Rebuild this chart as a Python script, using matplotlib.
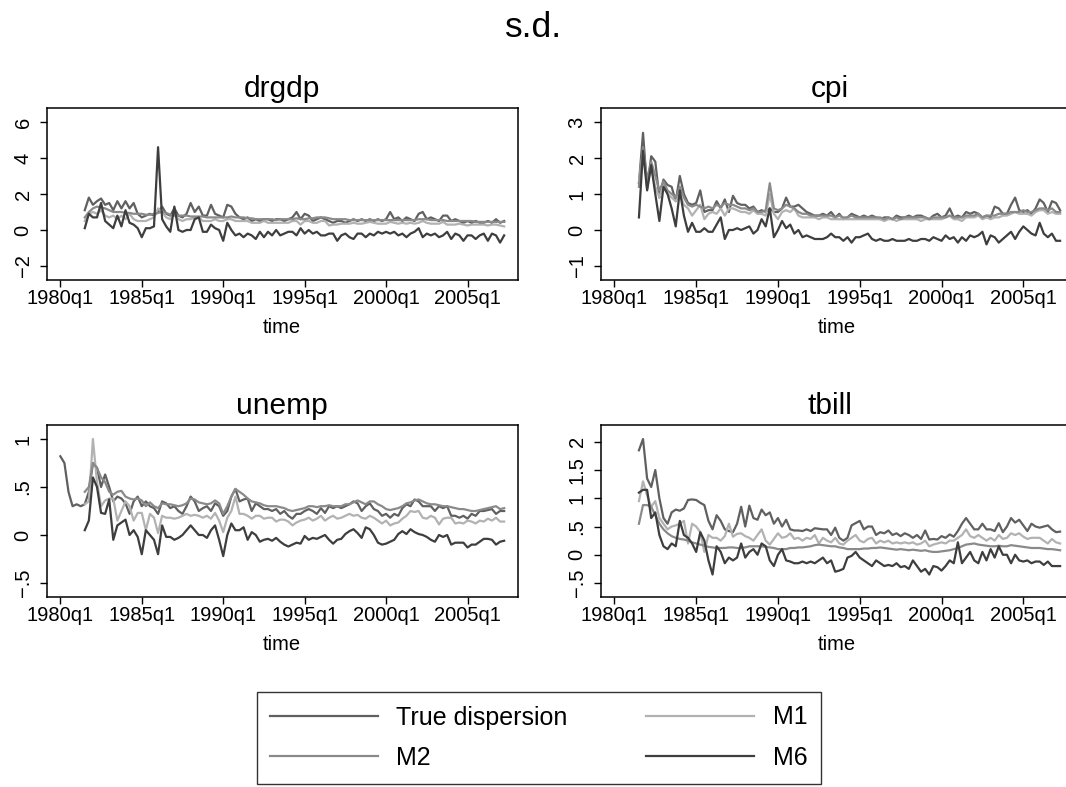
import numpy as np
import matplotlib
matplotlib.use("Agg")
import matplotlib.pyplot as plt

plt.rcParams["font.family"] = ["Liberation Sans", "DejaVu Sans"]

# quarters counted from 1980q1 = 0; every series ends at 2007q2
last_q = 109
xtick_pos = [0, 20, 40, 60, 80, 100]
xtick_lab = ["1980q1", "1985q1", "1990q1", "1995q1", "2000q1", "2005q1"]

series_names = ["True dispersion", "M1", "M2", "M6"]
series_colors = ["#606060", "#b2b2b2", "#8a8a8a", "#3e3e3e"]

# ---- drgdp (1981q3 .. 2007q2) ----
drgdp_true = [1.1, 1.8,
              1.4, 1.6, 1.75, 1.4, 1.5, 1.1, 1.6, 1.2, 1.6, 1.2, 1.5, 0.9,
              0.7, 0.8, 0.9, 0.8, 1.0, 1.3, 0.9, 0.8, 1.2, 0.8, 0.7, 0.9,
              1.5, 1.0, 1.3, 0.8, 0.8, 1.4, 0.9, 0.8, 0.7, 1.4, 1.3, 0.9,
              0.7, 0.6, 0.7, 0.5, 0.6, 0.5, 0.6, 0.6, 0.5, 0.6, 0.6, 0.5,
              0.6, 0.7, 1.0, 0.6, 0.9, 0.8, 0.5, 0.6, 0.7, 0.6, 0.5, 0.4,
              0.5, 0.5, 0.4, 0.5, 0.6, 0.5, 0.6, 0.5, 0.6, 0.5, 0.6, 0.5,
              0.6, 1.0, 0.6, 0.7, 0.5, 0.7, 0.6, 0.5, 0.9, 1.0, 0.6, 0.7,
              0.6, 0.5, 0.8, 0.8, 0.5, 0.6, 0.5, 0.4, 0.5, 0.4, 0.5, 0.4,
              0.4, 0.5, 0.4, 0.6,
              0.4, 0.5]
drgdp_m1 = [0.5, 0.9,
            1.0, 0.9, 1.1, 0.8, 0.7, 0.8, 0.6, 0.8, 0.6, 0.9, 0.6, 0.5,
            0.5, 0.5, 0.6, 0.7, 1.2, 1.0, 0.7, 0.6, 0.9, 0.6, 0.5, 0.6,
            0.6, 0.7, 0.7, 0.5, 0.5, 0.5, 0.6, 0.5, 0.5, 0.6, 0.6, 0.5,
            0.5, 0.5, 0.5, 0.4, 0.4, 0.4, 0.5, 0.4, 0.4, 0.4, 0.4, 0.4,
            0.4, 0.5, 0.5, 0.3, 0.5, 0.5, 0.4, 0.4, 0.5, 0.5, 0.25, 0.3,
            0.3, 0.35, 0.35, 0.35, 0.4, 0.35, 0.35, 0.4, 0.45, 0.4, 0.35, 0.35,
            0.35, 0.45, 0.4, 0.35, 0.4, 0.35, 0.4, 0.35, 0.4, 0.5, 0.4, 0.35,
            0.35, 0.35, 0.45, 0.3, 0.3, 0.3, 0.35, 0.3, 0.25, 0.3, 0.3, 0.3,
            0.3, 0.25, 0.3, 0.3,
            0.25, 0.2]
drgdp_m2 = [0.7, 1.0,
            1.2, 1.3, 1.25, 1.2, 1.1, 1.0, 1.0, 1.0, 0.95, 0.95, 0.9, 0.9,
            0.9, 0.85, 0.85, 0.9, 0.95, 1.0, 0.95, 0.85, 0.8, 0.8, 0.8, 0.8,
            0.75, 0.75, 0.75, 0.75, 0.7, 0.7, 0.7, 0.7, 0.7, 0.7, 0.75, 0.7,
            0.7, 0.7, 0.65, 0.65, 0.6, 0.6, 0.6, 0.6, 0.6, 0.55, 0.6, 0.6,
            0.6, 0.6, 0.65, 0.6, 0.6, 0.65, 0.65, 0.7, 0.7, 0.7, 0.65, 0.6,
            0.6, 0.6, 0.6, 0.55, 0.55, 0.55, 0.55, 0.55, 0.55, 0.55, 0.55, 0.55,
            0.55, 0.55, 0.55, 0.55, 0.55, 0.55, 0.55, 0.55, 0.6, 0.6, 0.6, 0.55,
            0.55, 0.55, 0.55, 0.5, 0.5, 0.5, 0.5, 0.5, 0.5, 0.5, 0.45, 0.45,
            0.45, 0.45, 0.45, 0.45,
            0.45, 0.45]
drgdp_m6 = [0.1, 0.9,
            0.7, 0.7, 1.5, 0.5, 0.3, 0.1, 0.8, 0.2, 1.1, 0.4, 0.3, 0.1,
            -0.4, 0.1, 0.1, 0.2, 4.6, 0.6, 0.2, -0.1, 1.3, 0.0, -0.1, 0.0,
            0.0, 0.6, 0.7, -0.1, -0.1, 0.3, 0.1, 0.0, -0.6, 0.4, 0.0, -0.3,
            -0.2, -0.4, -0.2, -0.3, -0.5, -0.1, -0.4, -0.1, -0.3, 0.0, -0.3, -0.2,
            -0.1, -0.1, -0.3, 0.1, -0.2, 0.0, -0.2, -0.1, -0.3, -0.3, -0.2, -0.2,
            -0.6, -0.3, -0.2, -0.4, -0.5, -0.2, -0.2, -0.4, -0.2, -0.3, -0.1, -0.2,
            -0.1, -0.2, -0.1, -0.3, -0.2, -0.4, -0.2, -0.1, 0.1, -0.4, -0.2, -0.3,
            -0.2, -0.4, -0.3, -0.1, -0.5, -0.2, -0.3, -0.6, -0.3, -0.3, -0.5, -0.3,
            -0.2, -0.6, -0.2, -0.3,
            -0.7, -0.3]

# ---- cpi (1981q3 .. 2007q2) ----
cpi_true = [1.3, 2.7,
            1.15, 2.05, 1.9, 0.9, 1.4, 1.25, 1.2, 0.8, 1.5, 1.0, 0.75, 0.7,
            0.75, 1.1, 0.5, 0.55, 0.55, 0.8, 0.6, 0.85, 0.5, 0.95, 0.75, 0.7,
            0.7, 0.6, 0.65, 0.5, 0.55, 0.5, 0.6, 0.5, 0.5, 0.6, 0.9, 0.65,
            0.65, 0.7, 0.6, 0.5, 0.45, 0.4, 0.4, 0.45, 0.4, 0.5, 0.35, 0.45,
            0.3, 0.35, 0.45, 0.4, 0.35, 0.4, 0.35, 0.4, 0.35, 0.3, 0.35, 0.35,
            0.3, 0.4, 0.35, 0.35, 0.4, 0.35, 0.4, 0.4, 0.35, 0.3, 0.4, 0.45,
            0.35, 0.4, 0.6, 0.35, 0.4, 0.35, 0.5, 0.45, 0.5, 0.45, 0.35, 0.4,
            0.35, 0.65, 0.6, 0.45, 0.45, 0.7, 0.9, 0.55, 0.5, 0.55, 0.45, 0.6,
            0.85, 0.75, 0.5, 0.8,
            0.75, 0.55]
cpi_m1 = [1.35, 2.2,
          1.3, 1.7, 1.2, 0.9, 1.3, 1.0, 0.9, 0.8, 1.0, 0.7, 0.6, 0.4,
          0.55, 0.7, 0.3, 0.45, 0.5, 0.45, 0.6, 0.4, 0.6, 0.6, 0.55, 0.5,
          0.5, 0.45, 0.55, 0.45, 0.45, 0.4, 1.0, 0.45, 0.3, 0.5, 0.55, 0.5,
          0.6, 0.4, 0.35, 0.35, 0.35, 0.35, 0.3, 0.35, 0.35, 0.3, 0.3, 0.3,
          0.3, 0.3, 0.3, 0.3, 0.3, 0.3, 0.3, 0.3, 0.3, 0.3, 0.25, 0.3,
          0.3, 0.25, 0.3, 0.3, 0.3, 0.3, 0.3, 0.25, 0.3, 0.3, 0.3, 0.3,
          0.3, 0.35, 0.4, 0.3, 0.3, 0.25, 0.35, 0.35, 0.35, 0.4, 0.3, 0.35,
          0.3, 0.35, 0.35, 0.4, 0.4, 0.45, 0.5, 0.45, 0.45, 0.45, 0.4, 0.5,
          0.55, 0.55, 0.45, 0.5,
          0.45, 0.45]
cpi_m2 = [1.2, 2.3,
          1.4, 1.9, 1.5, 1.1, 1.35, 1.1, 1.0, 0.9, 1.2, 0.9, 0.7, 0.65,
          0.7, 0.65, 0.6, 0.65, 0.6, 0.7, 0.65, 0.75, 0.7, 0.7, 0.65, 0.6,
          0.6, 0.55, 0.6, 0.5, 0.5, 0.55, 1.3, 0.6, 0.55, 0.6, 0.7, 0.65,
          0.6, 0.5, 0.45, 0.45, 0.4, 0.4, 0.4, 0.4, 0.4, 0.4, 0.35, 0.4,
          0.35, 0.35, 0.4, 0.35, 0.35, 0.35, 0.35, 0.35, 0.35, 0.35, 0.3, 0.35,
          0.3, 0.35, 0.3, 0.35, 0.35, 0.35, 0.35, 0.35, 0.35, 0.3, 0.35, 0.35,
          0.35, 0.35, 0.4, 0.35, 0.35, 0.35, 0.4, 0.4, 0.4, 0.45, 0.35, 0.4,
          0.4, 0.4, 0.45, 0.45, 0.45, 0.5, 0.5, 0.5, 0.55, 0.5, 0.5, 0.55,
          0.6, 0.6, 0.55, 0.6,
          0.5, 0.5]
cpi_m6 = [0.35, 2.2,
          1.1, 1.8, 1.0, 0.25, 1.2, 1.0, 0.6, 0.1, 1.1, 0.4, -0.05, 0.2,
          -0.05, -0.05, 0.05, -0.05, -0.05, 0.15, 0.35, -0.25, 0.0, 0.0, 0.05, 0.0,
          0.05, 0.1, -0.1, 0.0, 0.3, 0.1, 0.6, -0.2, 0.0, 0.25, 0.05, 0.15,
          -0.1, 0.0, -0.2, -0.15, -0.2, -0.25, -0.25, -0.25, -0.2, -0.1, -0.2, -0.2,
          -0.3, -0.2, -0.35, -0.2, -0.2, -0.15, -0.1, -0.25, -0.3, -0.25, -0.3, -0.3,
          -0.25, -0.3, -0.3, -0.3, -0.25, -0.3, -0.3, -0.25, -0.25, -0.3, -0.2, -0.25,
          -0.3, -0.15, -0.25, -0.2, -0.35, -0.2, -0.3, -0.15, -0.2, -0.15, -0.05, -0.4,
          -0.15, -0.2, -0.35, -0.25, -0.15, -0.05, -0.25, -0.05, 0.1, 0.0, -0.1, -0.15,
          0.2, -0.1, -0.2, -0.1,
          -0.3, -0.3]

# ---- unemp (true from 1980q1, models from 1981q3) ----
unemp_true = [0.82, 0.75, 0.45, 0.3, 0.32, 0.3, 0.32, 0.45,
              0.75, 0.7, 0.5, 0.63, 0.5, 0.35, 0.4, 0.38, 0.33, 0.22, 0.35, 0.4,
              0.3, 0.35, 0.3, 0.28, 0.22, 0.35, 0.33, 0.28, 0.3, 0.25, 0.22, 0.3,
              0.4, 0.35, 0.25, 0.28, 0.3, 0.25, 0.33, 0.3, 0.2, 0.25, 0.4, 0.48,
              0.35, 0.37, 0.38, 0.25, 0.33, 0.3, 0.27, 0.27, 0.25, 0.27, 0.22, 0.25,
              0.2, 0.17, 0.22, 0.22, 0.25, 0.27, 0.25, 0.22, 0.28, 0.23, 0.3, 0.28,
              0.3, 0.28, 0.3, 0.32, 0.35, 0.33, 0.25, 0.3, 0.33, 0.27, 0.25, 0.2,
              0.22, 0.18, 0.22, 0.2, 0.28, 0.32, 0.3, 0.37, 0.35, 0.3, 0.3, 0.3,
              0.25, 0.3, 0.28, 0.3, 0.2, 0.2, 0.18, 0.2, 0.17, 0.22, 0.2, 0.25,
              0.25, 0.26, 0.27, 0.22,
              0.25, 0.25]
unemp_m1 = [0.32, 0.35,
            1.0, 0.55, 0.3, 0.36, 0.38, 0.38, 0.15, 0.25, 0.35, 0.3, 0.15, 0.23,
            0.23, 0.05, 0.22, 0.18, 0.02, 0.2, 0.18, 0.18, 0.17, 0.18, 0.2, 0.22,
            0.2, 0.21, 0.2, 0.18, 0.2, 0.17, 0.23, 0.15, 0.03, 0.18, 0.25, 0.4,
            0.22, 0.22, 0.2, 0.17, 0.2, 0.2, 0.17, 0.18, 0.18, 0.14, 0.16, 0.16,
            0.14, 0.1, 0.13, 0.15, 0.16, 0.18, 0.15, 0.17, 0.2, 0.15, 0.18, 0.2,
            0.17, 0.18, 0.2, 0.22, 0.2, 0.21, 0.18, 0.17, 0.2, 0.18, 0.15, 0.12,
            0.15, 0.1, 0.12, 0.13, 0.17, 0.2, 0.25, 0.24, 0.25, 0.18, 0.17, 0.2,
            0.18, 0.11, 0.17, 0.18, 0.18, 0.12, 0.13, 0.12, 0.15, 0.14, 0.12, 0.15,
            0.14, 0.17, 0.15, 0.18,
            0.14, 0.14]
unemp_m2 = [0.45, 0.5,
            0.75, 0.7, 0.6, 0.55, 0.45, 0.42, 0.45, 0.46, 0.4, 0.38, 0.37, 0.38,
            0.36, 0.3, 0.34, 0.3, 0.28, 0.33, 0.32, 0.32, 0.31, 0.3, 0.31, 0.33,
            0.38, 0.37, 0.34, 0.33, 0.32, 0.33, 0.36, 0.33, 0.22, 0.3, 0.4, 0.48,
            0.45, 0.42, 0.38, 0.35, 0.34, 0.33, 0.31, 0.3, 0.3, 0.3, 0.29, 0.28,
            0.26, 0.25, 0.26, 0.27, 0.28, 0.3, 0.3, 0.29, 0.3, 0.3, 0.31, 0.3,
            0.3, 0.3, 0.32, 0.32, 0.34, 0.36, 0.34, 0.32, 0.35, 0.35, 0.32, 0.3,
            0.27, 0.26, 0.27, 0.28, 0.3, 0.33, 0.34, 0.36, 0.37, 0.35, 0.33, 0.32,
            0.32, 0.31, 0.3, 0.3, 0.29, 0.28, 0.27, 0.27, 0.26, 0.25, 0.25, 0.26,
            0.27, 0.28, 0.29, 0.3,
            0.27, 0.28]
unemp_m6 = [0.05, 0.15,
            0.6, 0.5, 0.23, 0.22, 0.37, -0.05, 0.1, 0.13, 0.16, 0.0, 0.05, -0.02,
            -0.2, 0.05, 0.0, -0.05, -0.2, 0.1, -0.02, -0.02, -0.05, -0.03, 0.0, 0.05,
            0.1, 0.05, 0.0, 0.0, -0.03, 0.05, 0.1, -0.05, -0.22, 0.0, 0.12, 0.05,
            0.05, 0.08, -0.05, 0.03, 0.0, -0.07, -0.05, -0.04, -0.06, -0.03, -0.07, -0.1,
            -0.12, -0.1, -0.08, -0.09, -0.01, -0.05, -0.03, -0.04, -0.02, 0.0, -0.05, -0.09,
            -0.05, -0.04, 0.01, 0.04, 0.06, 0.02, -0.03, 0.08, 0.06, 0.0, -0.08, -0.1,
            -0.09, -0.07, -0.05, 0.01, 0.04, 0.01, 0.06, 0.03, 0.01, 0.0, -0.02, -0.05,
            -0.07, 0.0, -0.02, 0.0, -0.1, -0.08, -0.08, -0.08, -0.13, -0.1, -0.1, -0.07,
            -0.04, -0.04, -0.05, -0.1,
            -0.07, -0.06]

# ---- tbill (1981q3 .. 2007q2) ----
tbill_true = [1.85, 2.05,
              1.35, 1.2, 1.5, 1.0, 0.65, 0.55, 0.75, 0.8, 0.78, 0.82, 0.97, 0.98,
              0.97, 0.92, 0.88, 0.6, 0.45, 0.7, 0.6, 0.45, 0.42, 0.4, 0.55, 0.85,
              0.5, 0.87, 0.65, 0.62, 0.8, 0.7, 0.75, 0.55, 0.65, 0.5, 0.62, 0.45,
              0.43, 0.43, 0.42, 0.45, 0.42, 0.47, 0.46, 0.45, 0.45, 0.35, 0.48, 0.3,
              0.25, 0.3, 0.52, 0.56, 0.6, 0.45, 0.5, 0.5, 0.35, 0.4, 0.38, 0.43,
              0.35, 0.38, 0.33, 0.38, 0.35, 0.3, 0.35, 0.28, 0.43, 0.27, 0.28, 0.27,
              0.33, 0.3, 0.36, 0.32, 0.42, 0.55, 0.65, 0.55, 0.45, 0.45, 0.55, 0.45,
              0.45, 0.42, 0.56, 0.4, 0.5, 0.65, 0.57, 0.62, 0.52, 0.42, 0.55, 0.5,
              0.48, 0.5, 0.52, 0.45,
              0.4, 0.41]
tbill_m1 = [0.95, 1.3,
            1.05, 0.85, 0.95, 0.65, 0.55, 0.45, 0.5, 0.52, 0.55, 0.6, 0.2, 0.55,
            0.5, 0.4, 0.05, 0.35, 0.3, 0.3, 0.25, 0.33, 0.55, 0.32, 0.37, 0.38,
            0.33, 0.3, 0.25, 0.35, 0.45, 0.25, 0.18, 0.28, 0.38, 0.3, 0.32, 0.38,
            0.28, 0.3, 0.25, 0.3, 0.28, 0.35, 0.2, 0.3, 0.25, 0.22, 0.3, 0.2,
            0.18, 0.25, 0.3, 0.35, 0.25, 0.22, 0.28, 0.3, 0.2, 0.25, 0.22, 0.25,
            0.2, 0.22, 0.2, 0.22, 0.2, 0.22, 0.18, 0.2, 0.25, 0.15, 0.18, 0.2,
            0.22, 0.2, 0.25, 0.25, 0.3, 0.35, 0.45, 0.33, 0.3, 0.35, 0.3, 0.25,
            0.3, 0.25, 0.35, 0.28, 0.3, 0.38, 0.35, 0.38, 0.32, 0.28, 0.3, 0.3,
            0.3, 0.25, 0.2, 0.28,
            0.22, 0.2]
tbill_m2 = [0.55, 0.88,
            0.88, 0.85, 0.7, 0.55, 0.45, 0.38, 0.33, 0.3, 0.28, 0.27, 0.25, 0.22,
            0.2, 0.18, 0.16, 0.14, 0.13, 0.12, 0.12, 0.12, 0.13, 0.13, 0.12, 0.12,
            0.13, 0.15, 0.15, 0.15, 0.15, 0.14, 0.13, 0.12, 0.1, 0.1, 0.1, 0.12,
            0.12, 0.13, 0.13, 0.14, 0.15, 0.17, 0.18, 0.17, 0.16, 0.15, 0.15, 0.13,
            0.12, 0.1, 0.1, 0.1, 0.1, 0.11, 0.11, 0.12, 0.12, 0.13, 0.12, 0.11,
            0.1, 0.09, 0.1, 0.09, 0.08, 0.09, 0.08, 0.07, 0.08, 0.06, 0.05, 0.05,
            0.06, 0.07, 0.08, 0.1, 0.12, 0.15, 0.18, 0.19, 0.2, 0.18, 0.17, 0.16,
            0.15, 0.15, 0.16, 0.15, 0.15, 0.17, 0.16, 0.15, 0.14, 0.13, 0.12, 0.12,
            0.12, 0.11, 0.1, 0.1,
            0.09, 0.08]
tbill_m6 = [1.1, 1.15,
            1.15, 0.65, 0.75, 0.35, 0.15, 0.1, 0.2, 0.15, 0.6, 0.35, 0.3, 0.2,
            0.05, 0.4, 0.25, -0.1, -0.35, 0.15, 0.05, -0.15, -0.05, -0.1, -0.05, 0.2,
            -0.05, 0.05, 0.1, 0.0, 0.2, 0.15, -0.1, -0.2, 0.0, 0.1, -0.1, -0.12,
            -0.15, -0.15, -0.12, -0.15, -0.12, -0.15, -0.1, -0.05, -0.15, -0.1, -0.3, -0.28,
            -0.25, -0.05, -0.02, 0.05, -0.05, -0.1, -0.15, -0.2, -0.1, -0.15, -0.2, -0.18,
            -0.2, -0.15, -0.22, -0.2, -0.25, -0.1, -0.2, -0.3, -0.25, -0.35, -0.2, -0.22,
            -0.28, -0.2, -0.1, -0.15, 0.22, -0.15, -0.05, 0.05, -0.1, -0.15, 0.05, -0.1,
            0.1, -0.05, 0.15, 0.0, 0.0, -0.15, 0.0, -0.1, -0.12, -0.1, -0.15, -0.12,
            -0.12, -0.18, -0.12, -0.2,
            -0.2, -0.2]

drgdp_ticks = [-2, 0, 2, 4, 6]
drgdp_labels = ["\u22122", "0", "2", "4", "6"]
cpi_ticks = [-1, 0, 1, 2, 3]
cpi_labels = ["\u22121", "0", "1", "2", "3"]
unemp_ticks = [-0.5, 0, 0.5, 1]
unemp_labels = ["\u2212.5", "0", ".5", "1"]
tbill_ticks = [-0.5, 0, 0.5, 1, 1.5, 2]
tbill_labels = ["\u2212.5", "0", ".5", "1", "1.5", "2"]

W, H = 1066, 787
fig = plt.figure(figsize=(W / 100, H / 100), dpi=100)


def px_axes(left, top, right, bottom):
    return fig.add_axes([left / W, 1 - bottom / H, (right - left) / W,
                         (bottom - top) / H])


panels = [
    ("drgdp", [drgdp_true, drgdp_m1, drgdp_m2, drgdp_m6], drgdp_ticks,
     drgdp_labels, (46.5, 108, 518, 280)),
    ("cpi", [cpi_true, cpi_m1, cpi_m2, cpi_m6], cpi_ticks, cpi_labels,
     (600.5, 108, 1074, 280)),
    ("unemp", [unemp_true, unemp_m1, unemp_m2, unemp_m6], unemp_ticks,
     unemp_labels, (46.5, 425, 518, 597)),
    ("tbill", [tbill_true, tbill_m1, tbill_m2, tbill_m6], tbill_ticks,
     tbill_labels, (600.5, 425, 1074, 597)),
]

tick_fs = 14.5
handles = []
for title, data, yt, ylab, box in panels:
    ax = px_axes(*box)
    handles = []
    for vals, col, name in zip(data, series_colors, series_names):
        x = np.arange(last_q - len(vals) + 1, last_q + 1)
        h, = ax.plot(x, vals, color=col, lw=1.6, label=name)
        handles.append(h)
    hi = max(yt[-1], max(max(v) for v in data))
    lo = min(yt[0], min(min(v) for v in data))
    m = (hi - lo) * 14 / 144
    ax.set_ylim(lo - m, hi + m)
    ax.set_xlim(-3.4, 112.4)
    ax.set_xticks(xtick_pos)
    ax.set_xticklabels(xtick_lab, fontsize=tick_fs)
    ax.set_yticks(yt)
    ax.set_yticklabels(ylab, fontsize=tick_fs, rotation=90, va="center")
    ax.tick_params(direction="out", length=5, width=1, color="black")
    ax.tick_params(axis="x", pad=1.5)
    ax.tick_params(axis="y", pad=5)
    ax.set_xlabel("time", fontsize=tick_fs, labelpad=7)
    for sp in ax.spines.values():
        sp.set_linewidth(1.1)
        sp.set_color("black")
    # panel title sits over the visible part of the plot box
    left, top, right, bottom = box
    cx = (left + min(right, 1060)) / 2
    fig.text(cx / W, 1 - (top - 11) / H, title, fontsize=21.5,
             ha="center", va="baseline")

fig.text(534 / W, 1 - 37 / H, "s.d.", fontsize=25.5, ha="center",
         va="baseline")

# column-major order gives rows: True dispersion | M1, M2 | M6
order = [0, 2, 1, 3]
fig.legend([handles[i] for i in order], [series_names[i] for i in order],
           ncol=2, fontsize=18, loc="upper left",
           bbox_to_anchor=(256.5 / W, 1 - 692 / H), borderaxespad=0,
           frameon=True, fancybox=False, edgecolor="black",
           handlelength=4.3, handletextpad=0.75, columnspacing=3.15,
           labelspacing=0.66, borderpad=0.54)

fig.savefig("out.png", dpi=100)
